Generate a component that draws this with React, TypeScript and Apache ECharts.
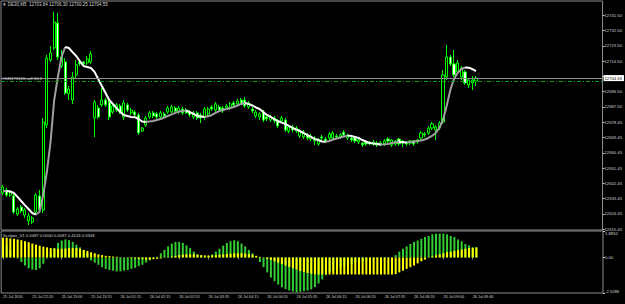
import React, { useEffect, useRef } from 'react';
import * as echarts from 'echarts';

const FONT = 'Liberation Sans, Arial, sans-serif';

const tickLabels = [
  '25 Jul 2016', '25 Jul 22:20', '25 Jul 23:00', '25 Jul 23:55', '26 Jul 01:15',
  '26 Jul 02:15', '26 Jul 02:55', '26 Jul 03:35', '26 Jul 04:15', '26 Jul 04:55',
  '26 Jul 05:35', '26 Jul 06:15', '26 Jul 06:55', '26 Jul 07:35', '26 Jul 08:20',
  '26 Jul 09:00', '26 Jul 09:40',
];

// [open, close, low, high]
const candles = [
  [12636.7,12640.3,12635.5,12641.4],[12638.5,12635.5,12634.4,12639.7],[12635.5,12637.3,12634.4,12638.5],
  [12635.0,12625.5,12624.3,12636.7],[12624.3,12627.3,12623.2,12628.5],[12628.5,12626.1,12624.9,12629.6],
  [12623.7,12626.7,12622.0,12627.9],[12620.2,12623.2,12617.8,12624.9],[12619.6,12622.0,12618.4,12623.2],
  [12625.5,12635.5,12623.7,12636.7],[12635.0,12626.7,12625.5,12638.5],[12626.7,12678.6,12624.9,12681.0],
  [12676.9,12716.4,12675.1,12718.2],[12715.2,12719.4,12714.1,12723.5],[12722.3,12737.7,12721.1,12743.6],
  [12737.1,12717.0,12715.2,12743.0],[12711.7,12717.0,12710.5,12721.1],[12714.1,12695.8,12694.6,12716.4],
  [12695.2,12698.1,12691.6,12699.9],[12691.6,12705.2,12689.3,12708.2],[12706.4,12712.3,12704.6,12715.2],
  [12714.1,12712.9,12711.7,12715.2],[12714.1,12712.9,12711.7,12714.6],[12713.5,12715.8,12712.3,12717.6],
  [12714.1,12718.8,12712.9,12720.5],[12681.0,12690.4,12669.8,12691.6],[12686.9,12681.6,12680.4,12688.7],
  [12688.7,12691.6,12687.5,12698.7],[12691.6,12688.7,12687.5,12692.8],[12690.4,12681.6,12679.8,12691.6],
  [12684.5,12688.1,12683.4,12689.3],[12685.7,12688.7,12684.5,12689.9],[12688.1,12684.5,12683.4,12689.3],
  [12681.6,12689.9,12679.8,12691.6],[12688.7,12685.7,12684.5,12689.9],[12684.0,12685.7,12682.8,12686.9],
  [12684.5,12682.8,12681.6,12685.7],[12682.8,12672.1,12671.0,12684.0],[12673.3,12675.1,12672.7,12675.7],
  [12676.9,12681.0,12675.7,12682.2],[12681.6,12684.0,12680.4,12685.1],[12684.0,12682.2,12681.0,12685.1],
  [12683.4,12681.6,12680.4,12684.5],[12681.6,12684.0,12680.4,12685.1],[12683.4,12682.2,12681.0,12684.5],
  [12684.5,12686.9,12683.4,12688.1],[12684.5,12687.5,12684.0,12688.7],[12686.9,12685.1,12684.5,12688.1],
  [12684.5,12686.9,12683.4,12688.1],[12686.3,12684.0,12682.8,12687.5],[12685.7,12684.0,12683.4,12686.9],
  [12684.5,12682.8,12681.6,12685.7],[12681.6,12684.0,12680.4,12685.1],[12684.0,12681.0,12679.8,12685.1],
  [12682.8,12681.0,12678.0,12684.0],[12681.6,12686.3,12679.8,12687.5],[12683.4,12686.3,12682.2,12687.5],
  [12687.5,12686.3,12685.1,12688.7],[12685.7,12689.3,12684.5,12690.4],[12687.5,12685.7,12684.5,12688.7],
  [12686.9,12685.1,12684.0,12688.1],[12686.9,12688.1,12685.7,12689.3],[12686.9,12689.3,12685.7,12690.4],
  [12689.9,12688.7,12687.5,12691.0],[12689.3,12691.0,12688.1,12692.2],[12691.6,12689.9,12688.7,12692.8],
  [12691.6,12688.1,12686.9,12693.4],[12687.5,12689.9,12686.3,12691.0],[12686.3,12685.1,12684.0,12687.5],
  [12682.2,12684.5,12681.0,12685.7],[12681.6,12683.4,12679.8,12684.5],[12684.5,12679.8,12678.6,12685.7],
  [12681.6,12680.4,12679.2,12682.8],[12679.8,12681.6,12678.6,12682.8],[12681.0,12679.2,12678.0,12682.2],
  [12679.2,12676.3,12675.1,12680.4],[12679.2,12681.0,12678.0,12682.2],[12679.8,12673.9,12672.7,12681.0],
  [12673.3,12675.7,12672.1,12676.9],[12675.7,12673.9,12672.7,12676.9],[12673.3,12675.1,12672.1,12676.3],
  [12670.4,12673.3,12669.2,12674.5],[12669.8,12672.7,12668.6,12673.9],[12671.0,12669.2,12668.0,12672.1],
  [12668.6,12670.4,12667.4,12671.6],[12667.4,12669.2,12665.1,12670.4],[12665.7,12668.0,12664.5,12669.2],
  [12669.8,12669.2,12668.0,12671.0],[12668.6,12667.4,12666.2,12669.8],[12669.2,12671.6,12668.0,12672.7],
  [12669.2,12672.1,12668.0,12673.3],[12670.4,12669.8,12668.6,12671.6],[12669.8,12671.0,12668.6,12672.1],
  [12672.7,12671.0,12669.8,12673.9],[12669.2,12670.4,12668.0,12671.6],[12669.2,12668.0,12666.8,12670.4],
  [12669.2,12667.4,12666.2,12670.4],[12666.8,12668.0,12665.7,12669.2],[12666.2,12665.1,12663.9,12666.8],
  [12666.8,12665.7,12664.5,12668.0],[12666.8,12665.7,12665.1,12667.4],[12665.7,12666.8,12664.5,12668.0],
  [12666.2,12665.1,12663.9,12667.4],[12665.1,12666.2,12664.5,12667.4],[12665.7,12667.4,12664.5,12668.6],
  [12668.6,12667.4,12666.2,12669.8],[12665.1,12668.0,12663.9,12668.6],[12665.7,12667.4,12664.5,12668.0],
  [12668.6,12665.7,12664.5,12669.2],[12667.4,12666.2,12663.9,12668.0],[12666.8,12665.7,12664.5,12667.4],
  [12666.2,12667.4,12665.1,12668.0],[12667.4,12665.7,12664.5,12668.0],[12666.8,12668.0,12665.7,12668.6],
  [12669.2,12672.1,12668.0,12673.3],[12671.6,12671.0,12669.8,12672.7],[12672.1,12675.1,12671.0,12676.3],
  [12675.1,12677.5,12673.9,12678.6],[12673.9,12675.7,12668.0,12676.9],[12675.1,12678.0,12673.9,12679.2],
  [12678.6,12706.4,12677.5,12709.3],[12705.2,12717.0,12703.4,12724.1],[12717.0,12712.9,12711.7,12718.2],
  [12712.9,12706.4,12705.2,12721.1],[12708.2,12713.5,12707.0,12715.2],[12705.2,12710.5,12703.4,12711.7],
  [12708.2,12701.7,12700.5,12709.3],[12700.5,12703.4,12698.7,12704.6],[12701.7,12703.4,12697.5,12705.8],
  [12702.8,12704.55,12699.9,12705.8],
];

const maLine = [
  12637.9,12637.9,12637.6,12636.7,12634.4,12632.0,12629.6,12627.3,12624.9,12624.0,
  12625.5,12635.5,12649.1,12666.8,12691.6,12705.2,12717.0,12722.9,12722.3,12719.9,
  12717.6,12714.6,12711.7,12711.1,12710.5,12708.2,12704.0,12699.9,12695.8,12691.6,
  12689.3,12686.9,12684.5,12682.8,12682.2,12681.6,12681.5,12680.4,12678.9,12678.6,
  12678.9,12679.2,12679.8,12680.4,12681.3,12682.2,12683.1,12684.0,12684.8,12685.1,
  12685.4,12684.5,12683.4,12682.2,12681.9,12681.6,12682.0,12682.8,12684.0,12685.1,
  12685.7,12686.3,12686.9,12687.5,12688.4,12689.3,12689.9,12689.3,12688.4,12687.2,
  12686.3,12684.5,12682.8,12681.6,12680.4,12679.2,12678.3,12677.5,12676.3,12675.1,
  12674.2,12673.3,12672.1,12671.0,12669.8,12668.6,12668.0,12667.1,12667.0,12667.4,
  12668.3,12668.9,12669.5,12670.1,12670.6,12670.4,12669.8,12669.2,12668.0,12667.1,
  12666.2,12665.9,12665.7,12665.4,12665.5,12665.7,12666.2,12666.5,12666.8,12666.7,
  12666.6,12666.8,12667.1,12667.4,12667.7,12668.3,12669.2,12670.4,12672.1,12675.1,
  12679.8,12688.1,12697.5,12704.0,12707.6,12709.9,12710.8,12710.7,12709.9,12708.7,
];

const scalperGreen = [
  1.16,0.91,0.54,0.17,-0.07,-0.32,-0.57,-0.77,-0.86,-0.89,
  -0.77,-0.44,-0.07,0.30,0.67,1.04,1.21,1.28,1.23,1.11,
  0.91,0.72,0.52,0.30,-0.20,-0.37,-0.52,-0.69,-0.81,-0.89,
  -0.94,-0.99,-0.99,-0.94,-0.89,-0.81,-0.74,-0.62,-0.52,-0.37,
  -0.20,-0.07,0.05,0.30,0.54,0.79,0.99,1.11,1.11,1.04,
  0.86,0.67,0.42,0.22,0.12,0.05,0.10,0.22,0.42,0.62,
  0.84,1.04,1.16,1.23,1.16,0.99,0.79,0.54,0.30,0.05,
  -0.32,-0.69,-1.06,-1.43,-1.68,-1.93,-2.12,-2.25,-2.35,-2.42,
  -2.47,-2.44,-2.40,-2.35,-2.27,-2.10,-1.85,-1.56,-1.26,-1.06,
  -0.94,-0.81,-0.72,-0.62,-0.52,-0.44,-0.37,-0.32,-0.27,-0.22,
  -0.17,-0.15,-0.12,-0.10,-0.07,-0.05,-0.02,0.17,0.42,0.62,
  0.79,0.96,1.11,1.21,1.33,1.46,1.53,1.65,1.70,1.70,
  1.70,1.65,1.53,1.46,1.28,1.16,0.96,0.86,0.72,0.72,
];

const scalperYellow = [
  1.41,1.41,1.36,1.33,1.28,1.23,1.16,1.09,0.99,0.91,
  0.84,0.77,0.72,0.67,0.64,0.62,0.62,0.64,0.67,0.67,
  0.67,0.62,0.54,0.47,0.37,0.30,0.22,0.17,0.12,0.10,
  0.07,0.05,0.02,0.01,-0.02,-0.05,-0.07,-0.10,-0.12,-0.15,
  -0.15,-0.12,-0.10,-0.07,-0.02,0.02,0.07,0.12,0.17,0.20,
  0.22,0.22,0.22,0.20,0.17,0.15,0.15,0.15,0.17,0.20,
  0.22,0.25,0.27,0.30,0.30,0.30,0.27,0.25,0.20,0.12,
  0.05,-0.02,-0.10,-0.17,-0.27,-0.37,-0.47,-0.57,-0.67,-0.77,
  -0.86,-0.96,-1.04,-1.11,-1.16,-1.19,-1.21,-1.21,-1.21,-1.21,
  -1.21,-1.21,-1.21,-1.21,-1.21,-1.21,-1.21,-1.21,-1.21,-1.21,
  -1.21,-1.21,-1.21,-1.21,-1.21,-1.21,-1.21,-1.19,-1.06,-0.94,
  -0.81,-0.69,-0.57,-0.42,-0.27,-0.15,-0.02,0.07,0.15,0.22,
  0.30,0.37,0.42,0.47,0.52,0.57,0.62,0.67,0.69,0.72,
];

const priceTicks = [
  12741.50, 12732.50, 12723.50, 12714.50, 12705.50, 12696.50, 12687.50, 12678.45,
  12669.45, 12660.45, 12651.45, 12642.45, 12633.45, 12624.45, 12615.45,
];

const bidPrice = 12704.55;
const orderPrice = 12702.8;
const orderLabel = '#345176126 sell 20.2';
const priceMin = 12614.88;
const priceMax = 12750.06;
const oscMax = 1.8852;
const oscMin = -2.5288;
const mainTitle = '\u25BC DE30,M5  12703.84 12706.30 12700.25 12704.55';
const oscTitle = 'Scalper_V1 0.0087 0.0000 0.0087 0.4126 0.5348';

const SLOTS = 164;

export default function App() {
  const ref = useRef<HTMLDivElement>(null);

  useEffect(() => {
    const chart = echarts.init(ref.current as HTMLDivElement, null, { renderer: 'svg' });
    const cats = Array.from({ length: SLOTS }, (_, i) =>
      i % 8 === 0 && i / 8 < tickLabels.length ? tickLabels[i / 8] : ''
    );
    const whiteMA: (number | null)[] = maLine.map(() => null);
    const grayMA: (number | null)[] = maLine.map(() => null);
    for (let k = 0; k < maLine.length - 1; k++) {
      const tgt = maLine[k + 1] < maLine[k] ? whiteMA : grayMA;
      tgt[k] = maLine[k];
      tgt[k + 1] = maLine[k + 1];
    }
    const txt = '#d0d0d0';
    const border = '#8c8c8c';
    const showIdx = (i: number) => cats[i] !== '';

    chart.setOption({
      animation: false,
      backgroundColor: '#000',
      title: [
        { text: mainTitle, left: 2, top: 2, padding: 0,
          textStyle: { color: txt, fontSize: 4.5, fontWeight: 'normal', fontFamily: FONT } },
        { text: oscTitle, left: 3, top: 233, padding: 0,
          textStyle: { color: txt, fontSize: 4.2, fontWeight: 'normal', fontFamily: FONT } },
      ],
      grid: [
        { left: 1, right: 22, top: 1, height: 229, show: true, borderColor: border, borderWidth: 1, backgroundColor: 'transparent' },
        { left: 1, right: 22, top: 231, height: 62, show: true, borderColor: border, borderWidth: 1, backgroundColor: 'transparent' },
      ],
      xAxis: [
        { gridIndex: 0, type: 'category', data: cats, boundaryGap: true,
          axisLine: { show: false }, axisTick: { show: false }, axisLabel: { show: false }, splitLine: { show: false } },
        { gridIndex: 1, type: 'category', data: cats, boundaryGap: true,
          axisLine: { show: false },
          axisTick: { show: true, interval: showIdx, alignWithLabel: true, length: 2, lineStyle: { color: border } },
          axisLabel: { interval: showIdx, align: 'left', color: txt, fontSize: 3.8, margin: 2, fontFamily: FONT },
          splitLine: { show: false } },
      ],
      yAxis: [
        { gridIndex: 0, type: 'value', position: 'right', min: priceMin, max: priceMax,
          splitLine: { show: false }, axisLine: { show: false },
          axisTick: { show: true, length: 2, customValues: priceTicks, lineStyle: { color: txt } },
          axisLabel: { customValues: priceTicks, formatter: (v: number) => v.toFixed(2),
            color: txt, fontSize: 4.2, margin: 2, fontFamily: FONT } },
        { gridIndex: 1, type: 'value', position: 'right', min: oscMin, max: oscMax,
          splitLine: { show: false }, axisLine: { show: false },
          axisTick: { show: true, length: 2, customValues: [oscMin, 0, oscMax], lineStyle: { color: txt } },
          axisLabel: { customValues: [oscMin, 0, oscMax],
            formatter: (v: number) => v >= oscMax - 1e-6 ? '{top|' + oscMax.toFixed(4) + '}'
              : v <= oscMin + 1e-6 ? '{bot|' + oscMin.toFixed(4) + '}' : '0.00',
            color: txt, fontSize: 4.2, margin: 2, fontFamily: FONT,
            rich: {
              top: { padding: [5, 0, 0, 0], color: txt, fontSize: 4.2, fontFamily: FONT },
              bot: { padding: [0, 0, 3, 0], color: txt, fontSize: 4.2, fontFamily: FONT },
            } } },
      ],
      series: [
        { type: 'candlestick', xAxisIndex: 0, yAxisIndex: 0, data: candles, barWidth: 2.6,
          itemStyle: { color: '#000', color0: '#ffffff', borderColor: '#00ff00', borderColor0: '#00ff00', borderWidth: 1 },
          markLine: {
            silent: true, symbol: ['none', 'none'], animation: false,
            data: [
              { yAxis: bidPrice, lineStyle: { color: '#909090', type: 'solid', width: 1 },
                label: { show: true, position: 'end', distance: 1, formatter: bidPrice.toFixed(2),
                  backgroundColor: '#ffffff', color: '#000', fontSize: 4.2, padding: [1, 2, 1, 1], fontFamily: FONT } },
              { yAxis: orderPrice, lineStyle: { color: '#00a000', type: [4, 2, 1, 2], width: 1 },
                label: { show: true, position: 'insideStartTop', distance: 1, formatter: orderLabel,
                  color: txt, fontSize: 4.2, fontFamily: FONT } },
            ],
          } },
        { type: 'line', xAxisIndex: 0, yAxisIndex: 0, data: grayMA, symbol: 'none', connectNulls: false,
          lineStyle: { color: '#a0a0a0', width: 2 }, z: 3 },
        { type: 'line', xAxisIndex: 0, yAxisIndex: 0, data: whiteMA, symbol: 'none', connectNulls: false,
          lineStyle: { color: '#ffffff', width: 2 }, z: 3 },
        { type: 'bar', xAxisIndex: 1, yAxisIndex: 1, data: scalperGreen, barWidth: 2, barGap: '-100%',
          itemStyle: { color: '#32cd32' } },
        { type: 'bar', xAxisIndex: 1, yAxisIndex: 1, data: scalperYellow, barWidth: 2, barGap: '-100%',
          itemStyle: { color: '#ffff00' } },
      ],
    });
    return () => chart.dispose();
  }, []);

  return (
    <div
      ref={ref}
      style={{ position: 'fixed', left: 0, top: 0, width: 625, height: 304, background: '#000' }}
    />
  );
}
